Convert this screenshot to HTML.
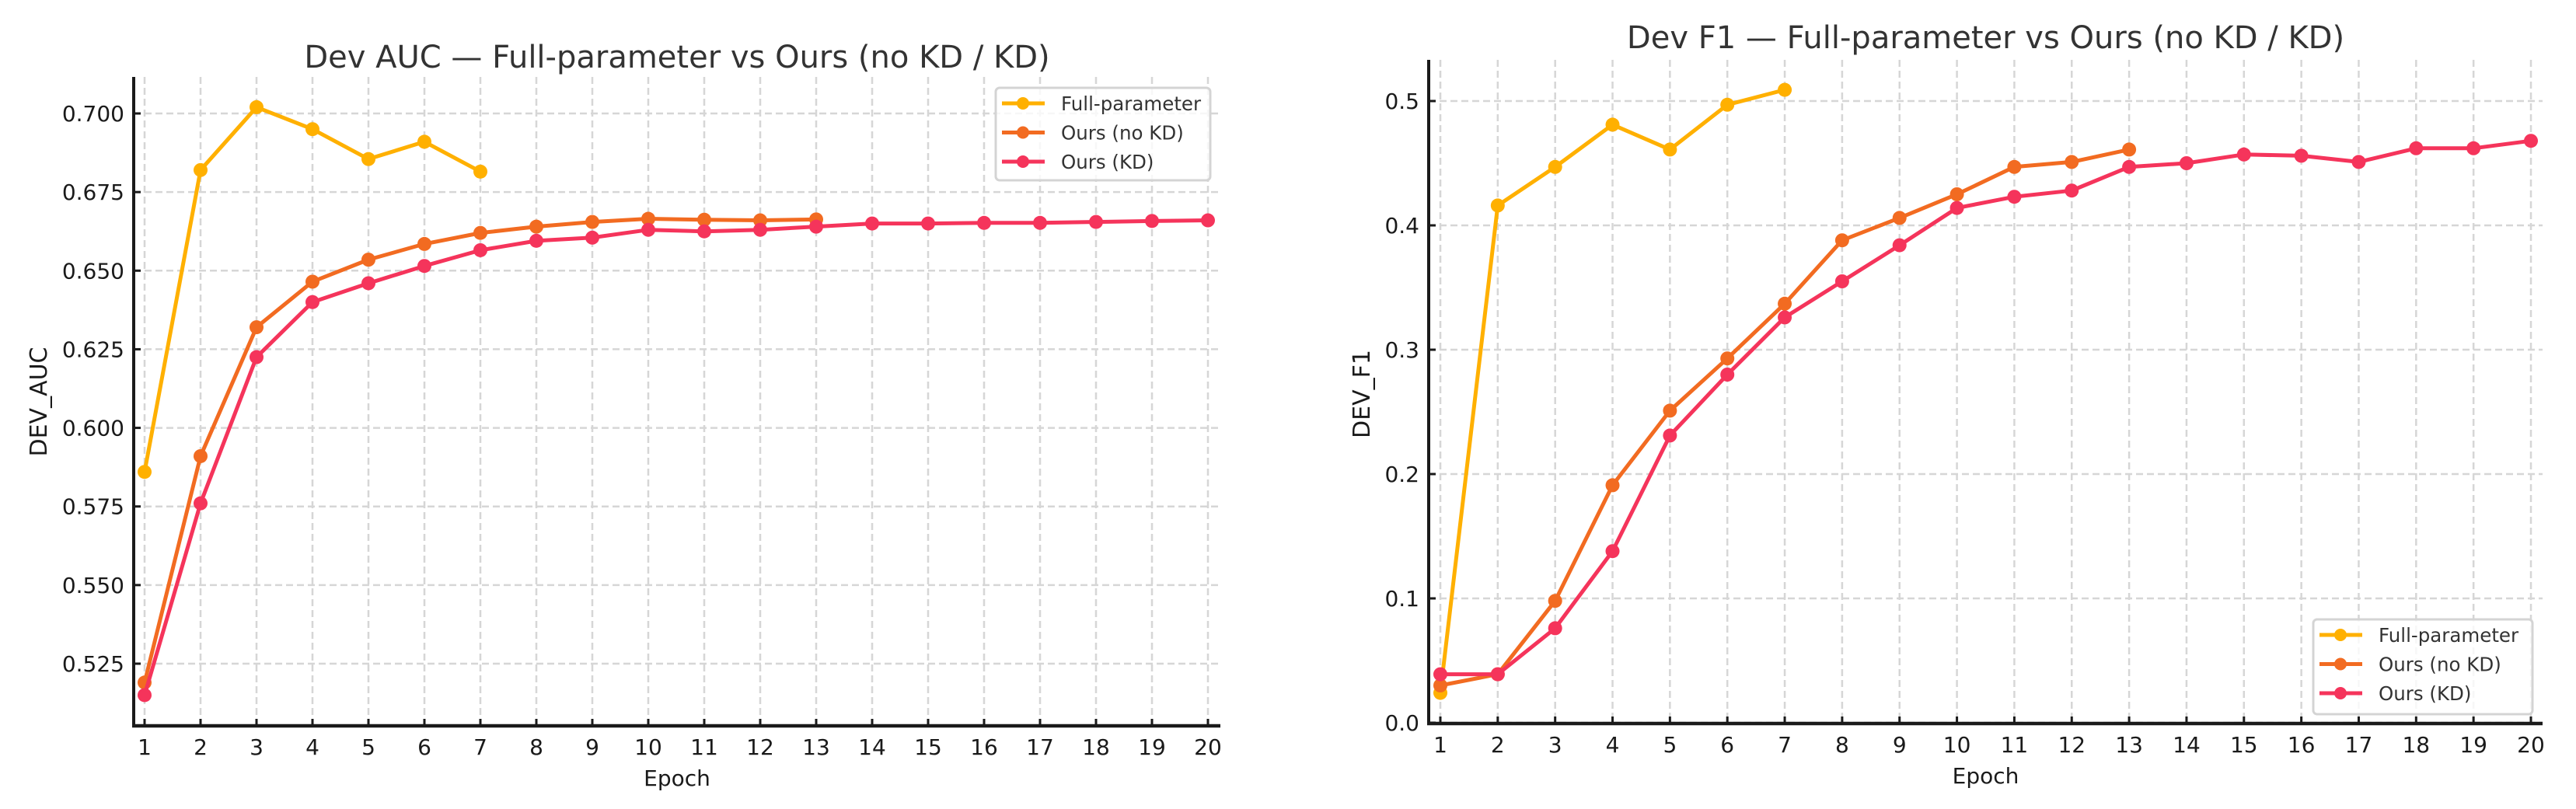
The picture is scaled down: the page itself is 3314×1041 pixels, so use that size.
<!DOCTYPE html>
<html><head><meta charset="utf-8"><style>
html,body{margin:0;padding:0;background:#fff;}
svg{display:block;font-family:"DejaVu Sans","Liberation Sans",sans-serif;}
</style></head><body>
<svg id="fig" width="3314" height="1041" viewBox="0 0 3314 1041" xmlns="http://www.w3.org/2000/svg"></svg>
<script>
const epochs = [1,2,3,4,5,6,7,8,9,10,11,12,13,14,15,16,17,18,19,20];
const seriesNames = ["Full-parameter","Ours (no KD)","Ours (KD)"];
const aucFull = [0.586,0.682,0.702,0.695,0.6855,0.691,0.6815];
const aucNoKD = [0.519,0.591,0.632,0.6465,0.6535,0.6585,0.662,0.664,0.6655,0.6665,0.6662,0.666,0.6663];
const aucKD = [0.515,0.576,0.6225,0.640,0.646,0.6515,0.6565,0.6595,0.6605,0.663,0.6625,0.663,0.664,0.665,0.665,0.6652,0.6652,0.6655,0.6658,0.666];
const aucTicks = [0.525,0.550,0.575,0.600,0.625,0.650,0.675,0.700];
const aucTickLabels = ["0.525","0.550","0.575","0.600","0.625","0.650","0.675","0.700"];
const f1Full = [0.024,0.416,0.447,0.481,0.461,0.497,0.509];
const f1NoKD = [0.030,0.039,0.098,0.191,0.251,0.293,0.337,0.388,0.406,0.425,0.447,0.451,0.461];
const f1KD = [0.039,0.039,0.076,0.138,0.231,0.280,0.326,0.355,0.384,0.414,0.423,0.428,0.447,0.450,0.457,0.456,0.451,0.462,0.462,0.468];
const f1Ticks = [0.0,0.1,0.2,0.3,0.4,0.5];
const f1TickLabels = ["0.0","0.1","0.2","0.3","0.4","0.5"];

const NS="http://www.w3.org/2000/svg";
const svg=document.getElementById('fig');
const colors=["#FFB000","#F26B21","#F5345B"];
function mk(tag,attrs,parent){const e=document.createElementNS(NS,tag);for(const k in attrs)e.setAttribute(k,attrs[k]);(parent||svg).appendChild(e);return e;}

function chart(cfg){
  const g=mk('g',{});
  
  
  const xs=v=>cfg.x1px+(v-1)*(cfg.x20px-cfg.x1px)/19;
  const ys=v=>cfg.yApx+(v-cfg.yA)*(cfg.yBpx-cfg.yApx)/(cfg.yB-cfg.yA);
  // grid
  const grid=mk('g',{stroke:"#d6d6d6","stroke-width":2.5,"stroke-dasharray":"9,5"},g);
  
  
  epochs.forEach(e=>mk('line',{x1:xs(e),x2:xs(e),y1:cfg.top,y2:cfg.bottom},grid));
  cfg.ticks.forEach(t=>mk('line',{x1:cfg.left,x2:cfg.right,y1:ys(t),y2:ys(t)},grid));
  // series
  const data=cfg.data;
  data.forEach((arr,i)=>{
    const sg=mk('g',{},g);
    
    
    const pts=arr.map((v,j)=>xs(epochs[j])+','+ys(v)).join(' ');
    mk('polyline',{points:pts,fill:'none',stroke:colors[i],'stroke-width':5,'stroke-linejoin':'round'},sg);
    arr.forEach((v,j)=>{
      const c=mk('circle',{cx:xs(epochs[j]),cy:ys(v),r:9,fill:colors[i]},sg);
      
      
    });
  });
  // spines
  mk('line',{x1:cfg.left,x2:cfg.left,y1:cfg.top,y2:cfg.bottom+2,stroke:'#1a1a1a','stroke-width':4},g);
  mk('line',{x1:cfg.left-2,x2:cfg.right,y1:cfg.bottom,y2:cfg.bottom,stroke:'#1a1a1a','stroke-width':4.5},g);
  // ticks
  epochs.forEach(e=>{
    mk('line',{x1:xs(e),x2:xs(e),y1:cfg.bottom,y2:cfg.bottom-9,stroke:'#1a1a1a','stroke-width':3},g);
    const t=mk('text',{x:xs(e),y:cfg.bottom+37,'text-anchor':'middle','font-size':28,fill:'#1a1a1a'},g);
    
    
    t.textContent=e;
  });
  cfg.ticks.forEach((v,i)=>{
    mk('line',{x1:cfg.left,x2:cfg.left+9,y1:ys(v),y2:ys(v),stroke:'#1a1a1a','stroke-width':3},g);
    const t=mk('text',{x:cfg.left-12,y:ys(v)+10,'text-anchor':'end','font-size':28,fill:'#1a1a1a'},g);
    
    
    t.textContent=cfg.tickLabels[i];
  });
  // title & labels
  const ti=mk('text',{x:(cfg.left+cfg.right)/2,y:cfg.titleY,'text-anchor':'middle','font-size':40,fill:'#333'},g);
  
  
  ti.textContent=cfg.title;
  const xl=mk('text',{x:(cfg.left+cfg.right)/2,y:cfg.bottom+77,'text-anchor':'middle','font-size':28,fill:'#1a1a1a'},g);
  
  
  xl.textContent='Epoch';
  const yl=mk('text',{x:cfg.ylX,y:cfg.ylY,'text-anchor':'middle','font-size':30,fill:'#1a1a1a',transform:'rotate(-90 '+cfg.ylX+' '+cfg.ylY+')'},g);
  
  
  yl.textContent=cfg.ylabel;
  // legend
  const L=cfg.legend;
  const lg=mk('g',{},g);
  
  
  mk('rect',{x:L.x,y:L.y,width:L.w,height:L.h,rx:5,fill:'rgba(255,255,255,0.8)',stroke:'#d4d4d4','stroke-width':3},lg);
  seriesNames.forEach((n,i)=>{
    const ry=L.y+20+i*37.5;
    const eg=mk('g',{},lg);
    
    
    mk('line',{x1:L.x+8,x2:L.x+63,y1:ry,y2:ry,stroke:colors[i],'stroke-width':5},eg);
    mk('circle',{cx:L.x+35,cy:ry,r:8,fill:colors[i]},eg);
    const t=mk('text',{x:L.x+84,y:ry+9,'font-size':24.5,fill:'#333'},eg);
    t.textContent=n;
  });
}

chart({id:'auc',left:172,right:1570,top:99,bottom:934,x1px:186,x20px:1554,
  yA:0.525,yApx:854,yB:0.700,yBpx:146,ticks:aucTicks,tickLabels:aucTickLabels,
  data:[aucFull,aucNoKD,aucKD],title:'Dev AUC — Full-parameter vs Ours (no KD / KD)',titleY:87,
  ylabel:'DEV_AUC',ylX:60,ylY:517,legend:{x:1281,y:113,w:276,h:119}});
chart({id:'f1',left:1838,right:3271,top:77,bottom:931,x1px:1853,x20px:3256,
  yA:0.0,yApx:930,yB:0.5,yBpx:130,ticks:f1Ticks,tickLabels:f1TickLabels,
  data:[f1Full,f1NoKD,f1KD],title:'Dev F1 — Full-parameter vs Ours (no KD / KD)',titleY:62,
  ylabel:'DEV_F1',ylX:1762,ylY:507,legend:{x:2976,y:797,w:282,h:122}});
</script>
</body></html>
